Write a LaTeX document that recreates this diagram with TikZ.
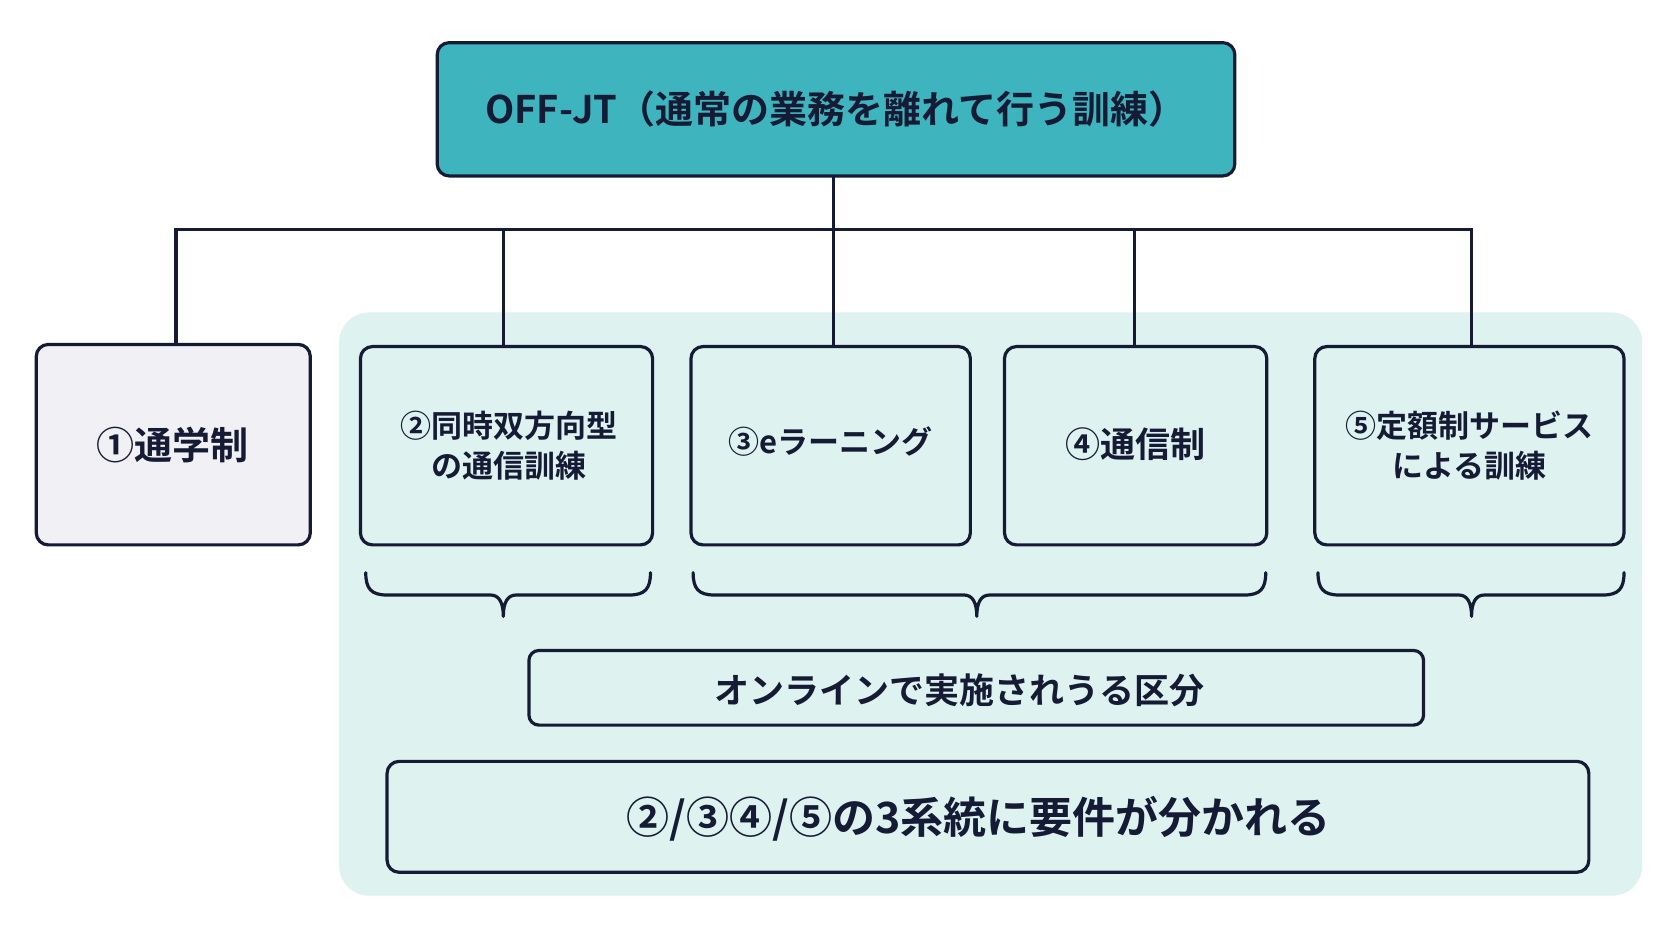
\documentclass[tikz,border=0pt]{standalone}
\usepackage{fontspec}
\newfontfamily\cjk{Noto Sans CJK JP Bold}
\begin{document}
\begin{tikzpicture}[x=1.066pt,y=-1.066pt,
  ln/.style={draw=navy,line width=3.2pt},
  bx/.style={ln,rounded corners=12pt},
  txt/.style={font=\cjk\fontsize{31}{40}\selectfont,text=navy,align=center}]
\definecolor{navy}{HTML}{161B35}
\definecolor{teal}{HTML}{3DB4BE}
\definecolor{mint}{HTML}{DEF2F0}
\definecolor{grayb}{HTML}{F0F0F5}
\useasboundingbox (0,0) rectangle (1568,882.6);
\fill[white] (0,0) rectangle (1568,882.6);
\fill[mint,rounded corners=30pt] (318,293) rectangle (1540,840);
% top
\draw[bx,fill=teal] (410,40) rectangle (1158,165);
\node[txt,font=\cjk\fontsize{38}{44}\selectfont] (top) at (784,102) {OFF-JT（通常の業務を離れて行う訓練）};
\coordinate (tb) at (782,165);
\coordinate (bus) at (782,215);
\draw[ln] (tb) -- (bus);
\draw[ln] (165,323) |- (1380,215) -- (1380,325);
\foreach \x/\y in {472/325,782/325,1064/325}{\draw[ln] (\x,215) -- (\x,\y);}
% boxes
\draw[bx,fill=grayb] (34,323) rectangle (291,511);
\node[txt,font=\cjk\fontsize{38}{44}\selectfont] (b1) at (162,417) {①通学制};
\draw[bx] (338,325) rectangle (612,511);
\node[txt] (b2) at (477,418) {②同時双方向型\\の通信訓練};
\draw[bx] (648,325) rectangle (910,511);
\node[txt] (b3) at (779,414) {③eラーニング};
\draw[bx] (942,325) rectangle (1188,511);
\node[txt,font=\cjk\fontsize{35}{44}\selectfont] (b4) at (1065,417) {④通信制};
\draw[bx] (1233,325) rectangle (1523,511);
\node[txt] (b5) at (1378,418) {⑤定額制サービス\\による訓練};
% braces
\foreach \a/\m/\b in {343/472/610,650/916/1187,1236/1380/1523}{
 \draw[ln,line cap=round,line join=round] (\a,537) .. controls (\a,552) and (\a+5,558) .. (\a+20,558) -- (\m-12,558) .. controls (\m-4,558) and (\m,565) .. (\m,578)
   .. controls (\m,565) and (\m+4,558) .. (\m+12,558) -- (\b-20,558) .. controls (\b-5,558) and (\b,552) .. (\b,537);}
\draw[bx,rounded corners=10pt] (496,610) rectangle (1335,680);
\node[txt,font=\cjk\fontsize{35}{40}\selectfont] (on) at (900,647) {オンラインで実施されうる区分};
\draw[bx] (363,714) rectangle (1490,818);
\node[txt,font=\cjk\fontsize{43}{48}\selectfont] (sum) at (918,768) {②/③④/⑤の3系統に要件が分かれる};
\end{tikzpicture}
\end{document}
